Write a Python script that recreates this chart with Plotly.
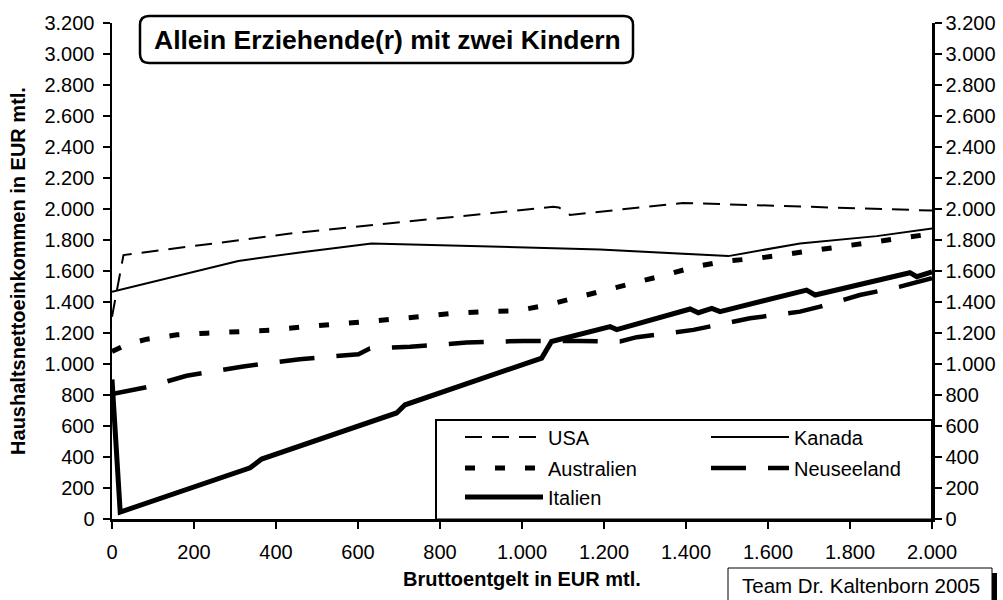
import plotly.graph_objects as go

# ---------------- data ----------------
x_usa = [0, 28, 458, 1076, 1090, 1117, 1393, 2000]
y_usa = [1305, 1703, 1849, 2014, 2010, 1962, 2039, 1990]

x_kanada = [0, 308, 458, 633, 1190, 1385, 1503, 1678, 1865, 2000]
y_kanada = [1466, 1664, 1720, 1778, 1739, 1714, 1696, 1778, 1825, 1874]

x_australien = [0, 40, 85, 158, 231, 308, 385, 458, 532, 609, 686, 755, 832, 906, 983,
                1056, 1129, 1202, 1276, 1349, 1422, 1495, 1572, 1645, 1723, 1796, 1869, 1946, 2000]
y_australien = [1080, 1130, 1160, 1188, 1199, 1207, 1218, 1237, 1252, 1269, 1289, 1306, 1327, 1338, 1342,
                1377, 1424, 1473, 1527, 1574, 1627, 1664, 1681, 1709, 1739, 1763, 1795, 1825, 1840]

x_neuseeland = [0, 85, 182, 320, 458, 601, 629, 727, 865, 1003, 1141, 1239, 1280, 1418, 1556,
                1678, 1727, 1824, 1922, 2000]
y_neuseeland = [806, 851, 924, 984, 1031, 1063, 1100, 1112, 1138, 1149, 1149, 1145, 1173, 1220, 1295,
                1338, 1370, 1445, 1499, 1553]

x_italien = [0, 20, 337, 365, 694, 715, 1048, 1072, 1215, 1231, 1410, 1430, 1463, 1483,
             1694, 1715, 1946, 1963, 2000]
y_italien = [900, 45, 330, 387, 684, 737, 1038, 1145, 1241, 1222, 1355, 1331, 1359, 1338,
             1477, 1445, 1589, 1563, 1595]

x_ticks = list(range(0, 2001, 200))
y_ticks = list(range(0, 3201, 200))

title_text = "Allein Erziehende(r) mit zwei Kindern"
x_title = "Bruttoentgelt in EUR mtl."
y_title = "Haushaltsnettoeinkommen in EUR mtl."
credit = "Team Dr. Kaltenborn 2005"

# ---------------- layout helpers ----------------
W, H = 1003, 600
L, R, T, B = 112, 71, 23, 81
PW = W - L - R
PH = H - T - B
FONT = "Liberation Sans, Arial, sans-serif"


def px(x):
    return (x - L) / PW


def py(y):
    return (H - B - y) / PH


def rrect(x0, y0, x1, y1, r):
    return (f"M{px(x0 + r)},{py(y0)} L{px(x1 - r)},{py(y0)} Q{px(x1)},{py(y0)} {px(x1)},{py(y0 + r)} "
            f"L{px(x1)},{py(y1 - r)} Q{px(x1)},{py(y1)} {px(x1 - r)},{py(y1)} "
            f"L{px(x0 + r)},{py(y1)} Q{px(x0)},{py(y1)} {px(x0)},{py(y1 - r)} "
            f"L{px(x0)},{py(y0 + r)} Q{px(x0)},{py(y0)} {px(x0 + r)},{py(y0)} Z")


fig = go.Figure()

series = [
    ("USA", x_usa, y_usa, dict(color="black", width=2, dash="17px,10px"), "legend"),
    ("Kanada", x_kanada, y_kanada, dict(color="black", width=2), "legend2"),
    ("Australien", x_australien, y_australien, dict(color="black", width=5, dash="10px,20px"), "legend3"),
    ("Neuseeland", x_neuseeland, y_neuseeland, dict(color="black", width=4.5, dash="35px,22px"), "legend4"),
    ("Italien", x_italien, y_italien, dict(color="black", width=5), "legend5"),
]
for name, xs, ys, line, lg in series:
    fig.add_trace(go.Scatter(x=xs, y=ys, mode="lines", name=name, line=line,
                             legend=lg, hoverinfo="skip"))

legend_pos = {"legend": (460, 437), "legend2": (706, 437), "legend3": (460, 468),
              "legend4": (706, 468), "legend5": (460, 497)}
legend_layout = {}
for lg, (lx, ly) in legend_pos.items():
    legend_layout[lg] = dict(x=px(lx), y=py(ly), xanchor="left", yanchor="middle",
                             bgcolor="rgba(0,0,0,0)", borderwidth=0, itemwidth=78,
                             font=dict(family=FONT, size=20, color="black"))

axis_common = dict(showgrid=False, zeroline=False, showline=True, linecolor="black", linewidth=2.5,
                   ticks="outside", ticklen=7, tickwidth=2, tickcolor="black",
                   tickfont=dict(family=FONT, size=20, color="black"))

fig.update_layout(
    width=W, height=H,
    margin=dict(l=L, r=R, t=T, b=B, autoexpand=False),
    paper_bgcolor="white", plot_bgcolor="white",
    separators=",.",
    showlegend=True,
    hovermode=False,
    font=dict(family=FONT, color="black"),
    xaxis=dict(range=[0, 2000], tickvals=x_ticks, tickformat=",d", ticklabelstandoff=6,
               title=dict(text=f"<b>{x_title}</b>", font=dict(family=FONT, size=20), standoff=11),
               **axis_common),
    yaxis=dict(range=[0, 3200], tickvals=y_ticks, tickformat=",d", ticklabelstandoff=4,
               title=dict(text=f"<b>{y_title}</b>", font=dict(family=FONT, size=20), standoff=14),
               **axis_common),
    yaxis2=dict(range=[0, 3200], tickvals=y_ticks, tickformat=",d", overlaying="y", side="right",
                **axis_common),
    shapes=[
        # title box
        dict(type="path", xref="paper", yref="paper", path=rrect(140, 16, 633, 63, 9),
             line=dict(color="black", width=2.5), fillcolor="white", layer="above"),
        # legend box
        dict(type="rect", xref="paper", yref="paper", x0=px(436), x1=px(932), y0=py(519.5), y1=py(420),
             line=dict(color="black", width=2), fillcolor="rgba(0,0,0,0)", layer="above"),
        # credit box shadow and box
        dict(type="rect", xref="paper", yref="paper", x0=px(733), x1=px(997), y0=py(607), y1=py(573),
             line=dict(width=0), fillcolor="black", layer="above"),
        dict(type="rect", xref="paper", yref="paper", x0=px(728), x1=px(992), y0=py(604), y1=py(568),
             line=dict(color="black", width=1), fillcolor="white", layer="above"),
    ],
    annotations=[
        dict(text=f"<b>{title_text}</b>", xref="paper", yref="paper", x=px(387.5), y=py(40),
             xanchor="center", yanchor="middle", showarrow=False,
             font=dict(family=FONT, size=26.5, color="black")),
        dict(text=credit, xref="paper", yref="paper", x=px(861), y=py(585),
             xanchor="center", yanchor="middle", showarrow=False,
             font=dict(family=FONT, size=20.5, color="black")),
    ],
    **legend_layout,
)

# invisible trace so the right axis is drawn
fig.add_trace(go.Scatter(x=[None], y=[None], yaxis="y2", showlegend=False, hoverinfo="skip"))

fig.write_html("out.html", config={"displayModeBar": False, "staticPlot": True},
               post_script="document.body.style.margin='0px';")
